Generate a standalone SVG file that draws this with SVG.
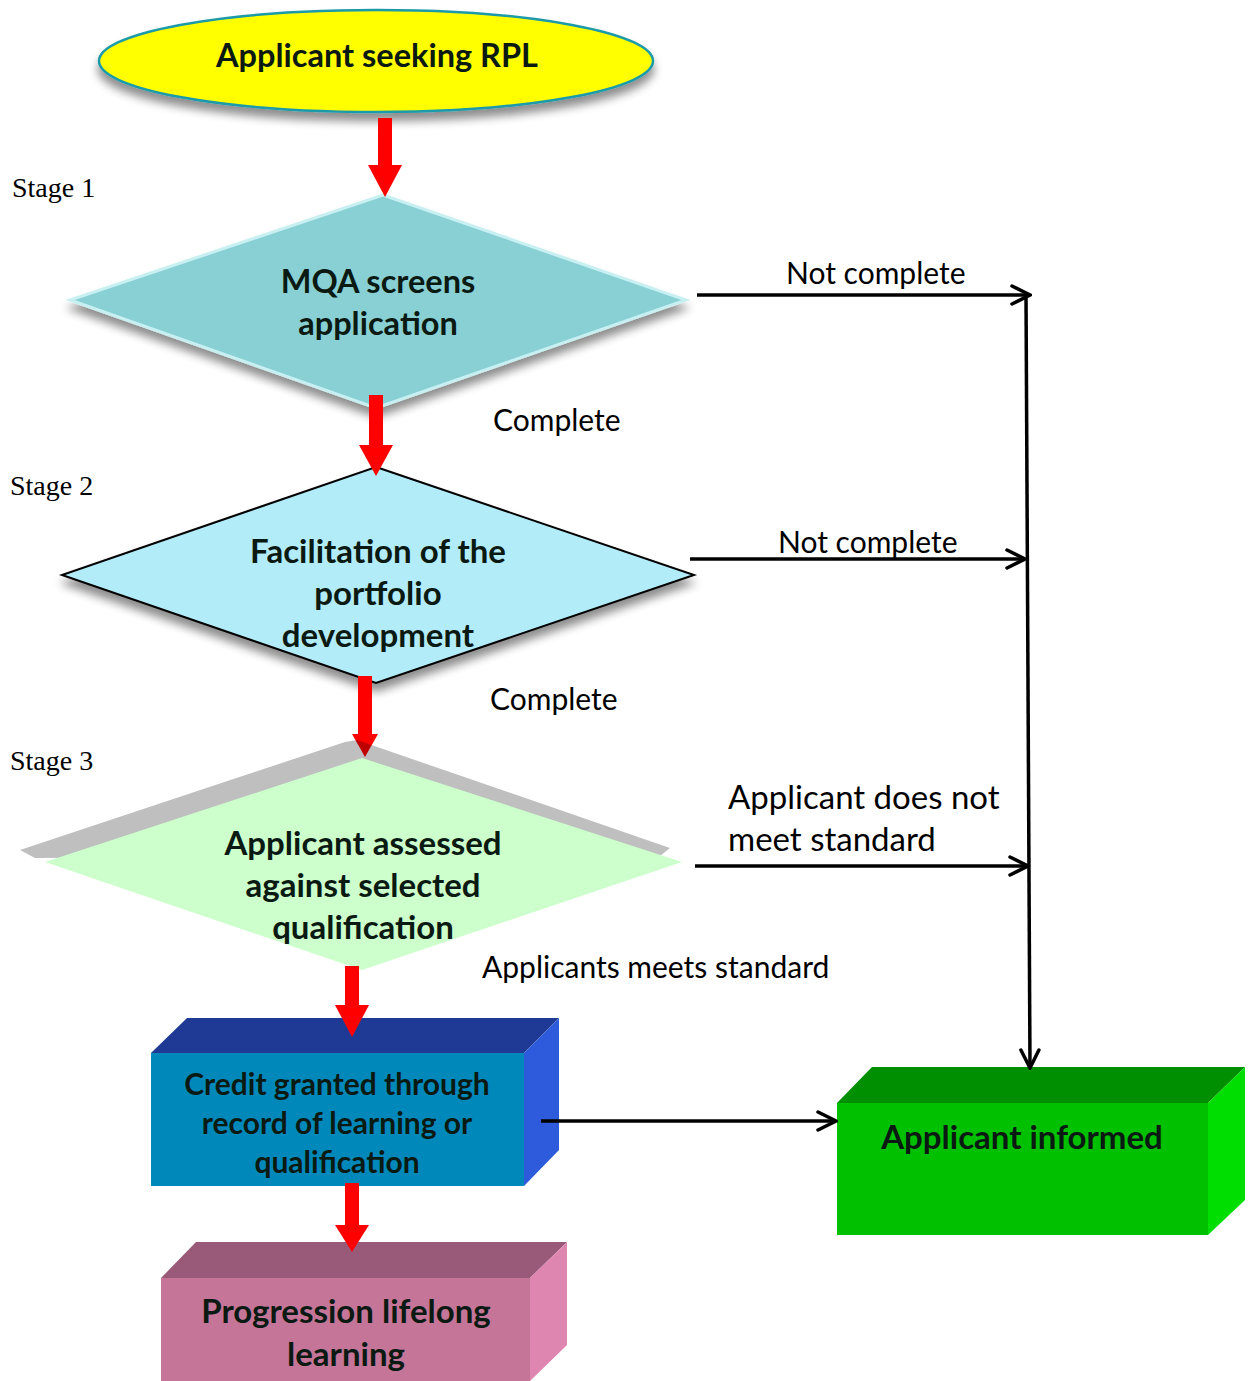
<svg xmlns="http://www.w3.org/2000/svg" width="1252" height="1381" viewBox="0 0 1252 1381">
<defs>
<filter id="sh" x="-10%" y="-20%" width="120%" height="150%">
<feGaussianBlur in="SourceAlpha" stdDeviation="5"/>
<feOffset dx="0" dy="8" result="b"/>
<feComponentTransfer><feFuncA type="linear" slope="0.45"/></feComponentTransfer>
<feMerge><feMergeNode/><feMergeNode in="SourceGraphic"/></feMerge>
</filter>
<marker id="open" viewBox="0 0 24 24" refX="22" refY="12" markerWidth="24" markerHeight="24" markerUnits="userSpaceOnUse" orient="auto">
<polyline points="4,3 22,12 4,21" fill="none" stroke="#000" stroke-width="3.5" stroke-linecap="round" stroke-linejoin="miter"/>
</marker>
</defs>
<style>
.t{font-family:Lato,"Open Sans",sans-serif;font-weight:bold;fill:#0a1a12;text-anchor:middle}
.l{font-family:Lato,"Open Sans",sans-serif;fill:#000;font-size:30px}
.big{font-size:33px}
.s{font-family:"Liberation Serif",serif;fill:#000;font-size:28px}
.red{fill:#ff0000}
.conn{stroke:#000;stroke-width:3.5;fill:none}
</style>
<rect width="1252" height="1381" fill="#fff"/>

<g id="stage-labels">
<text class="s" x="12" y="197">Stage 1</text>
<text class="s" x="10" y="495">Stage 2</text>
<text class="s" x="10" y="770">Stage 3</text>
</g>

<g id="start">
<ellipse cx="376" cy="61" rx="277" ry="51" fill="#ffff00" stroke="#1a9aaa" stroke-width="2.5" filter="url(#sh)"/>
<text class="t" x="377" y="67" font-size="32.5">Applicant seeking RPL</text>
</g>

<g id="stage1">
<polygon points="383,195 686,300 376,408 70,300" fill="#88d0d4" stroke="#c8f0f2" stroke-width="3" filter="url(#sh)"/>
<text class="t" x="378" y="293" font-size="32.5">MQA screens</text>
<text class="t" x="378" y="335" font-size="32.5">application</text>
</g>

<g id="stage2">
<polygon points="376,467 694,575 376,683 62,575" fill="#b3ecf9" stroke="#000" stroke-width="2" filter="url(#sh)"/>
<text class="t" x="378" y="563" font-size="33">Facilitation of the</text>
<text class="t" x="378" y="605" font-size="33">portfolio</text>
<text class="t" x="378" y="647" font-size="33">development</text>
</g>

<g id="arrow3-under">
<rect class="red" x="358" y="676" width="14" height="60"/>
<polygon class="red" points="352,734 378,734 365,757"/>
</g>

<g id="stage3">
<polygon points="345,742 357,740 670,848 660,856 35,858 20,850" fill="#000" fill-opacity="0.25"/>
<polygon points="362,758 682,862 362,970 45,862" fill="#ccffcc"/>
<text class="t" x="363" y="855" font-size="33">Applicant assessed</text>
<text class="t" x="363" y="897" font-size="33">against selected</text>
<text class="t" x="363" y="939" font-size="33">qualification</text>
</g>

<g id="credit">
<polygon points="151,1053 187,1018 559,1018 524,1053" fill="#1f3a94"/>
<polygon points="524,1053 559,1018 559,1150 524,1186" fill="#2e5bdc"/>
<rect x="151" y="1053" width="373" height="133" fill="#0088bb"/>
<text class="t" x="337" y="1095" font-size="30">Credit granted through</text>
<text class="t" x="337" y="1134" font-size="30">record of learning or</text>
<text class="t" x="337" y="1173" font-size="30">qualification</text>
</g>

<g id="progression">
<polygon points="161,1278 196,1242 567,1242 530,1278" fill="#985a78"/>
<polygon points="530,1278 567,1242 567,1345 530,1381" fill="#de86b0"/>
<rect x="161" y="1278" width="369" height="110" fill="#c47598"/>
<text class="t" x="346" y="1323" font-size="33">Progression lifelong</text>
<text class="t" x="346" y="1366" font-size="33">learning</text>
</g>

<g id="informed">
<polygon points="837,1103 872,1067 1245,1067 1208,1103" fill="#008f00"/>
<polygon points="1208,1103 1245,1067 1245,1200 1208,1235" fill="#00dd00"/>
<rect x="837" y="1103" width="371" height="132" fill="#00c000"/>
<text class="t" x="1022" y="1149" font-size="33">Applicant informed</text>
</g>

<g id="connectors">
<rect class="red" x="378" y="118" width="14" height="48"/>
<polygon class="red" points="368,165 402,165 385,197"/>
<rect class="red" x="369" y="395" width="14" height="52"/>
<polygon class="red" points="359,445 393,445 376,476"/>
<rect class="red" x="345" y="966" width="14" height="41"/>
<polygon class="red" points="335,1005 369,1005 352,1037"/>
<rect class="red" x="345" y="1183" width="14" height="44"/>
<polygon class="red" points="335,1225 369,1225 352,1252"/>
<line class="conn" x1="697" y1="295" x2="1030" y2="295" marker-end="url(#open)"/>
<line class="conn" x1="690" y1="559" x2="1025" y2="559" marker-end="url(#open)"/>
<line class="conn" x1="695" y1="866" x2="1028" y2="866" marker-end="url(#open)"/>
<line class="conn" x1="1026" y1="295" x2="1030" y2="1068" marker-end="url(#open)"/>
<line class="conn" x1="541" y1="1121" x2="836" y2="1121" marker-end="url(#open)"/>
</g>

<g id="connector-labels">
<text class="l" x="786" y="284">Not complete</text>
<text class="l" x="493" y="431">Complete</text>
<text class="l" x="778" y="553">Not complete</text>
<text class="l" x="490" y="710">Complete</text>
<text class="l big" x="728" y="809">Applicant does not</text>
<text class="l big" x="728" y="851">meet standard</text>
<text class="l" x="482" y="978">Applicants meets standard</text>
</g>
</svg>
